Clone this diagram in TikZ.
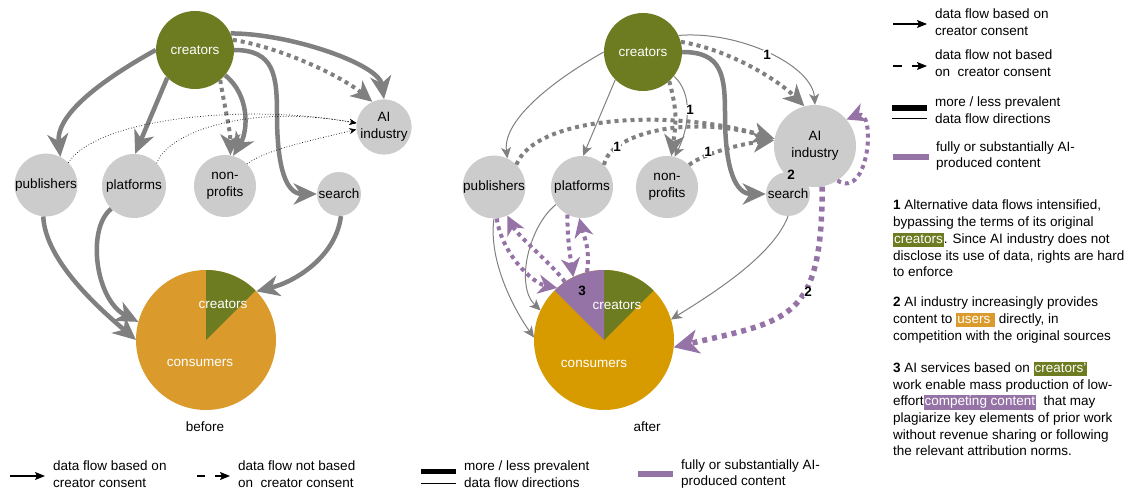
\documentclass[tikz,border=0pt]{standalone}
\usepackage{fontspec}
\setmainfont{Liberation Sans}
\usetikzlibrary{positioning, arrows.meta}
\definecolor{creatorgreen}{HTML}{6D7B21}
\definecolor{consumerorange}{HTML}{DA9B2C}
\definecolor{consumerdeep}{HTML}{D79B00}
\definecolor{actorgray}{HTML}{CCCCCC}
\definecolor{flowgray}{HTML}{808080}
\definecolor{aipurple}{HTML}{9673A6}
\newcommand\hlbox[2]{{\setlength{\fboxsep}{1pt}\colorbox{#1}{\color{white}\vphantom{Ag}#2}}}

\begin{document}
\begin{tikzpicture}[x=1pt, y=1pt,
    font=\fontsize{13.5}{16.7}\selectfont,
    actor/.style={circle, fill=actorgray, inner sep=0pt, minimum size=#1, align=center},
    origin/.style={circle, fill=creatorgreen, text=white, inner sep=0pt, minimum size=#1},
    pie/.style={circle, fill=#1, inner sep=0pt, outer sep=0pt, minimum size=140},
    bigflow/.style={draw=flowgray, line width=4.5pt, -{Stealth[length=23pt, width=21pt, inset=7pt]}},
    thinflow/.style={draw=flowgray, line width=1pt, -{Stealth[length=11pt, width=10pt, inset=3pt]}},
    dotflow/.style={draw=flowgray, line width=4pt, dash pattern=on 4pt off 4pt, -{Stealth[length=21pt, width=20pt, inset=6pt]}},
    aiflow/.style={draw=aipurple, line width=4pt, dash pattern=on 4pt off 4pt, -{Stealth[length=19pt, width=19pt, inset=6pt]}},
    scrape/.style={draw=black, line width=0.7pt, dotted, -{Stealth[length=7pt, width=6pt]}},
    legarrow/.style={draw=black, line width=1.2pt, -{Stealth[length=10pt, width=8pt, inset=2pt]}},
    flowmark/.style={font=\fontsize{13.5}{16.7}\selectfont\bfseries, fill=white, inner sep=0.5pt},
    legtext/.style={anchor=west, align=left, inner sep=0pt},
  ]
  \useasboundingbox (0,0) rectangle (1132,-489);

  % before
  \node[pie=consumerorange] (bcons) at (206,-340) {};
  \fill[creatorgreen] (bcons.center) -- (bcons.45) arc[start angle=45, end angle=90, radius=70] -- cycle;
  \node[text=white] (bpiecre) at (223,-304) {creators};
  \node[text=white] (bpiecon) at (200,-363) {consumers};
  \node (bcaption) at (205,-427) {before};

  \node[origin=78] (bcreators) at (195,-50) {creators};
  \node[actor=62] (bpub) at (46,-185) {publishers};
  \node[actor=64] (bplat) at (134,-186) {platforms};
  \node[actor=62] (bnon) at (225,-186) {non-\\profits};
  \node[actor=44] (bsearch) at (339,-194) {search};
  \node[actor=46] (bai) at (384,-127) {AI\\industry};

  \draw[bigflow] (bcreators.180) .. controls +(-45,-25) and +(-5,45) .. (bpub.63);
  \draw[bigflow] (bcreators.225) -- (bplat.88);
  \draw[bigflow] (bcreators.320) .. controls +(25,-20) and +(15,25) .. (bnon.75);
  \draw[dotflow] (bcreators.310) .. controls +(5,-30) and +(0,25) .. (bnon.80);
  \draw[bigflow] (bcreators.0) .. controls +(40,0) and +(0,40) .. (277,-115)
    .. controls +(0,-55) and +(-30,0) .. (bsearch.west);
  \draw[bigflow] (bcreators.25) .. controls +(60,0) and +(-5,35) .. (bai.north);
  \draw[dotflow] (bcreators.15) .. controls +(50,-8) and +(-30,25) .. (bai.115);
  \draw[scrape] (bpub.45) .. controls +(30,45) and +(-110,20) .. (bai.172);
  \draw[scrape] (bplat.45) .. controls +(10,30) and +(-110,20) .. (bai.172);
  \draw[scrape] (bnon.45) .. controls +(20,15) and +(-40,-10) .. (bai.185);
  \draw[bigflow] (bpub.265) .. controls +(2,-45) and +(-35,30) .. (bcons.180);
  \draw[bigflow] (bplat.225) .. controls +(-25,-20) and +(-43,22) .. (bcons.165);
  \draw[bigflow] (bsearch.275) .. controls +(-5,-40) and +(40,10) .. (bcons.44);

  % after
  \node[pie=consumerdeep] (acons) at (604,-340) {};
  \fill[creatorgreen] (acons.center) -- (acons.45) arc[start angle=45, end angle=90, radius=70] -- cycle;
  \fill[aipurple] (acons.center) -- (acons.90) arc[start angle=90, end angle=135, radius=70] -- cycle;
  \node[text=white] (apiecre) at (617,-305) {creators};
  \node[text=white] (apiecon) at (594,-364) {consumers};
  \node (acaption) at (647,-427) {after};

  \node[origin=78] (acreators) at (643,-52) {creators};
  \node[actor=62] (apub) at (494,-187) {publishers};
  \node[actor=62] (aplat) at (582,-187) {platforms};
  \node[actor=62] (anon) at (667,-187) {non-\\profits};
  \node[actor=82] (aai) at (815,-146) {AI\\industry};
  \node[actor=44] (asearch) at (788,-194) {search};

  \draw[thinflow] (acreators.180) .. controls +(-45,-25) and +(-5,40) .. (apub.65);
  \draw[thinflow] (acreators.225) -- (aplat.88);
  \draw[thinflow] (acreators.322) .. controls +(20,-18) and +(14,28) .. (anon.76);
  \draw[dotflow] (acreators.312) .. controls +(8,-30) and +(5,35) .. (anon.82);
  \draw[bigflow] (acreators.0) .. controls +(40,0) and +(0,40) .. (725,-115)
    .. controls +(0,-55) and +(-30,0) .. (asearch.west);
  \draw[thinflow] (acreators.25) .. controls +(60,5) and +(-3,40) .. (aai.north);
  \draw[dotflow] (acreators.15) .. controls +(50,-8) and +(-25,25) .. (aai.105);
  \draw[dotflow] (apub.45) .. controls +(20,50) and +(-100,30) .. (aai.170);
  \draw[dotflow] (aplat.45) .. controls +(5,30) and +(-90,25) .. (aai.170);
  \draw[dotflow] (anon.45) .. controls +(15,12) and +(-30,-3) .. (aai.172);
  \draw[thinflow] (apub.270) .. controls +(-6,-42) and +(-20,28) .. (acons.178);
  \draw[thinflow] (aplat.214) .. controls +(-27,-21) and +(-26,25) .. (acons.155);
  \draw[thinflow] (asearch.270) .. controls +(-15,-40) and +(40,25) .. (acons.17);

  \draw[aiflow, line width=5.5pt, dash pattern=on 5pt off 5pt, -{Stealth[length=25pt, width=24pt, inset=7pt]}]
    (aai.280) .. controls +(0,-134) and +(116,27) .. (acons.354);
  \draw[aiflow] (aai.303) .. controls +(32,-20) and +(30,12) .. (aai.40);
  \draw[aiflow] (apub.275) .. controls +(5,-35) and +(-25,5) .. (acons.132);
  \draw[aiflow] (acons.124) .. controls +(-10,15) and +(10,-20) .. (apub.295);
  \draw[aiflow] (aplat.242) .. controls +(0,-25) and +(-3,20) .. (acons.116);
  \draw[aiflow] (acons.104) .. controls +(3,25) and +(5,-20) .. (aplat.265);

  \node[flowmark] (m1a) at (767,-55) {1};
  \node[flowmark] (m1b) at (690,-110) {1};
  \node[flowmark] (m1c) at (617,-147) {1};
  \node[flowmark] (m1d) at (708,-152) {1};
  \node[flowmark, fill=none] (m2a) at (791,-175) {2};
  \node[flowmark] (m2b) at (808,-292) {2};
  \node[flowmark, fill=none] (m3) at (582,-291) {3};

  % legend, bottom
  \draw[legarrow] (10,-476) -- (45,-476);
  \node[legtext] (leg1) at (53,-474) {data flow based on\\creator consent};
  \draw[legarrow, dash pattern=on 8pt off 10pt] (197,-476) -- (230,-476);
  \node[legtext] (leg2) at (238,-474) {data flow not based\\on\ \ creator consent};
  \draw[line width=5pt] (421,-471) -- (456,-471);
  \draw[line width=1pt] (421,-483) -- (456,-483);
  \node[legtext] (leg3) at (464,-474) {more / less prevalent\\data flow directions};
  \draw[aipurple, line width=6pt] (638,-474) -- (673,-474);
  \node[legtext] (leg4) at (681,-474) {fully or substantially AI-\\produced content};

  % legend, right
  \draw[legarrow] (893,-24) -- (927,-24);
  \node[legtext] (rleg1) at (935,-22) {data flow based on\\creator consent};
  \draw[legarrow, dash pattern=on 9pt off 10pt] (893,-66) -- (927,-66);
  \node[legtext] (rleg2) at (935,-63) {data flow not based\\on\ \ creator consent};
  \draw[line width=6pt] (892,-108) -- (927,-108);
  \draw[line width=1pt] (892,-119) -- (927,-119);
  \node[legtext] (rleg3) at (935,-110) {more / less prevalent\\data flow directions};
  \draw[aipurple, line width=6pt] (893,-157) -- (929,-157);
  \node[legtext] (rleg4) at (936,-156) {fully or substantially AI-\\produced content};

  % notes
  \node[legtext, anchor=north west] (note1) at (893,-200) {\textbf{1} Alternative data flows intensified,\\bypassing the terms of its original\\\hlbox{creatorgreen}{creators}. Since AI industry does not\\disclose its use of data, rights are hard\\to enforce};
  \node[legtext, anchor=north west] (note2) at (893,-297) {\textbf{2} AI industry increasingly provides\\content to \hlbox{consumerorange}{users\ } directly, in\\competition with the original sources};
  \node[legtext, anchor=north west] (note3) at (893,-362) {\textbf{3} AI services based on \hlbox{creatorgreen}{creators'}\\work enable mass production of low-\\effort\hlbox{aipurple}{competing content}\ \ that may\\plagiarize key elements of prior work\\without revenue sharing or following\\the relevant attribution norms.};
\end{tikzpicture}
\end{document}
